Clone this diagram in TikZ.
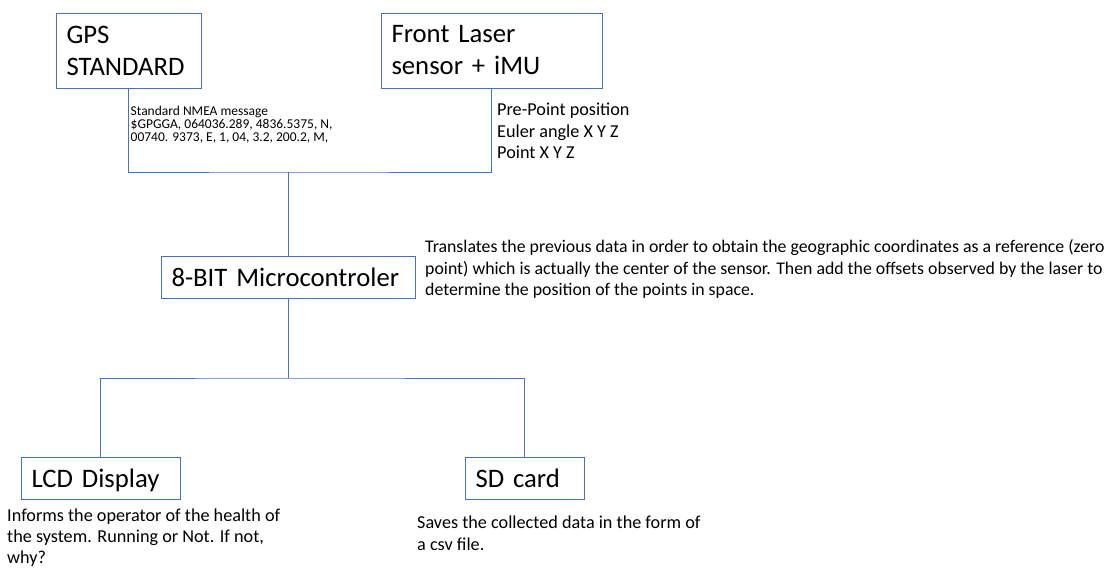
\documentclass[tikz,border=0pt]{standalone}
\usepackage{fontspec}
\setmainfont{Carlito}
\usepackage{tikz}
\definecolor{linkblue}{RGB}{68,114,196}
\tikzstyle{block} = [draw=linkblue, line width=0.8pt, inner xsep=10.5pt, inner ysep=0pt, align=left, font=\fontsize{26.7}{32}\selectfont]
\tikzstyle{note} = [inner sep=0pt, anchor=north west, align=left, font=\fontsize{18.2}{21.5}\selectfont]
\tikzstyle{wire} = [draw=linkblue, line width=0.8pt]

\begin{document}
\begin{tikzpicture}[x=1pt,y=-1pt]
		\useasboundingbox (0,0) rectangle (1115,568);
		\node [block, text width=124pt, minimum height=75pt] (gps) at (128.5,50.5) {GPS\\STANDARD};
		\node [block, text width=200pt, minimum height=75pt] (laser) at (491.5,50.5) {Front Laser\\sensor + iMU};
		\node [block, text width=233pt, minimum height=42pt] (mcu) at (288,277) {8-BIT Microcontroler};
		\node [block, text width=138pt, minimum height=42pt, text depth=0pt] (lcd) at (100.5,478) {LCD Display};
		\node [block, text width=98pt, minimum height=42pt] (sd) at (524.5,478) {SD card};
		
		\node [note, font=\fontsize{13.5}{13.4}\selectfont] (nmea) at (130.5,105.5) {Standard NMEA message\\\$GPGGA, 064036.289, 4836.5375, N,\\00740. 9373, E, 1, 04, 3.2, 200.2, M,};
		\node [note] (imu) at (497,103) {Pre-Point position\\Euler angle X Y Z\\Point X Y Z};
		\node [note, font=\fontsize{17.8}{21.5}\selectfont] (task) at (425,239.5) {Translates the previous data in order to obtain the geographic coordinates as a reference (zero\\point) which is actually the center of the sensor. Then add the offsets observed by the laser to\\determine the position of the points in space.};
		\node [note, font=\fontsize{18.2}{20.6}\selectfont] (health) at (7,509) {Informs the operator of the health of\\the system. Running or Not. If not,\\why?};
		\node [note] (save) at (417,516) {Saves the collected data in the form of\\a csv file.};
		
		\coordinate (join) at (mcu.north |- 0,172);
		\coordinate (fork) at (mcu.south |- 0,378);
		\draw [wire] (gps.south) |- (join) -| (laser.south);
		\draw [wire] (join) -- (mcu.north);
		\draw [wire] (mcu.south) -- (fork);
		\draw [wire] (lcd.north) |- (fork) -| (sd.north);
		
\end{tikzpicture}
\end{document}
